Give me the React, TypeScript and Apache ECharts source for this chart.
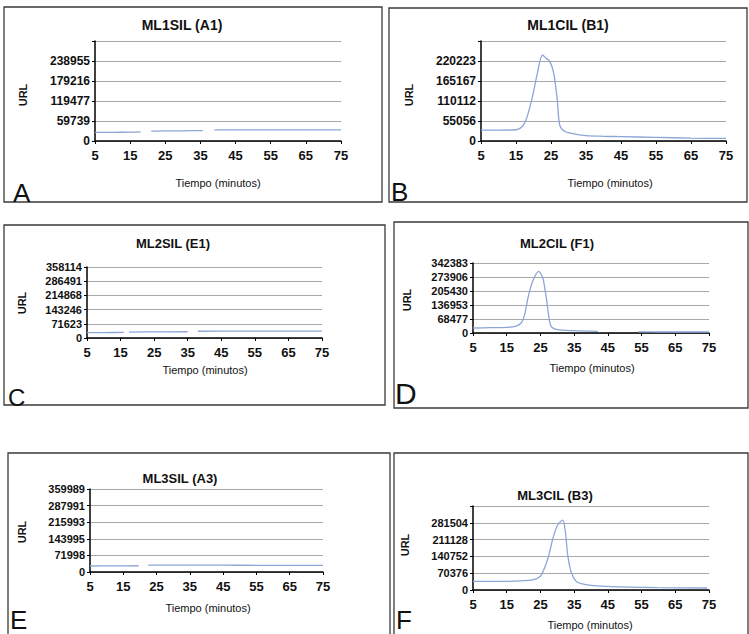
import React, { useEffect, useRef } from "react";
import * as echarts from "echarts";

// ---- Data (time in minutes, URL values) ----
const titles = ["ML1SIL (A1)", "ML1CIL (B1)", "ML2SIL (E1)", "ML2CIL (F1)", "ML3SIL (A3)", "ML3CIL (B3)"];
const panelLetters = ["A", "B", "C", "D", "E", "F"];
const xTicks = [5, 15, 25, 35, 45, 55, 65, 75];

const yLabelsA = ["0", "59739", "119477", "179216", "238955", ""];
const yLabelsB = ["0", "55056", "110112", "165167", "220223", ""];
const yLabelsC = ["0", "71623", "143246", "214868", "286491", "358114"];
const yLabelsD = ["0", "68477", "136953", "205430", "273906", "342383"];
const yLabelsE = ["0", "71998", "143995", "215993", "287991", "359989"];
const yLabelsF = ["0", "70376", "140752", "211128", "281504", ""];
const yMaxes = [298695, 275279, 358114, 342383, 359989, 351880];

const tA = [5, 10, 15, 18, 19.5, 21, 30, 35.7, 37.5, 39, 50, 60, 75];
const vA = [26000, 26000, 26500, 27000, null, 29500, 30500, 31000, null, 33000, 33500, 33000, 33000];

const tB = [5, 10, 15, 16, 17.1, 18, 19, 20, 20.9, 22.6, 23.6, 24.6, 25.7, 26.7, 27.5, 29, 32, 35, 40, 45, 55, 65, 75];
const vB = [30000, 30000, 31000, 34000, 44000, 62000, 94500, 135000, 177000, 236700, 228000, 220000, 190000, 122000, 44000, 26000, 19000, 15000, 13000, 12000, 10000, 8000, 7000];

const tC = [5, 10, 16, 16.8, 17.5, 25, 35, 36.5, 38, 50, 60, 75];
const vC = [27000, 27500, 28000, null, 30000, 31000, 31500, null, 34000, 35000, 35000, 35000];

const tD = [5, 10, 15, 17.5, 19.3, 20.3, 21.3, 22.7, 24.5, 25.7, 26.2, 26.9, 27.4, 28.2, 30.1, 35, 42, 48, 54, 60, 75];
const vD = [24500, 26000, 27700, 33000, 48900, 89700, 171200, 252700, 301600, 269000, 228300, 154900, 89700, 32600, 16300, 11400, 8200, null, 5500, 5000, 4900];

const tE = [5, 12, 19.6, 21, 22.5, 35, 45, 55, 65, 75];
const vE = [26000, 26500, 27000, null, 29500, 30000, 29500, 29000, 29000, 29000];

const tF = [5, 10, 15, 20, 23.2, 25.2, 27.2, 28.7, 30.1, 31.6, 32.4, 33.1, 34.1, 35.6, 37.1, 40, 45.9, 59.7, 74.5];
const vF = [36400, 36400, 36400, 39000, 44900, 61700, 131800, 215900, 272000, 293000, 244000, 145800, 75700, 36400, 26600, 19600, 14000, 9800, 8400];

const times = [tA, tB, tC, tD, tE, tF];
const values = [vA, vB, vC, vD, vE, vF];
const yLabels = [yLabelsA, yLabelsB, yLabelsC, yLabelsD, yLabelsE, yLabelsF];

// ---- Layout ----
const FONT = "'Liberation Sans', Arial, sans-serif";
const layout = [
  { grid: { left: 95, top: 41, width: 246, height: 100 }, border: [4, 7, 378, 195], title: [182, 25], url: [23, 95], xname: [218, 183], letter: [13, 193], lv: "middle", ls: 26, tf: 14, yf: 12, xf: 13 },
  { grid: { left: 481, top: 41, width: 245, height: 100 }, border: [389, 8, 358, 194], title: [568, 25], url: [409, 95], xname: [610, 183], letter: [391, 192], lv: "middle", ls: 26, tf: 14, yf: 12, xf: 13 },
  { grid: { left: 87, top: 267, width: 235, height: 71 }, border: [4, 225, 381, 180], title: [173, 243], url: [22, 303], xname: [205, 370], letter: [8, 397], lv: "middle", ls: 24, tf: 13, yf: 11, xf: 13 },
  { grid: { left: 473, top: 263, width: 236, height: 70 }, border: [394, 222, 354, 186], title: [557, 243], url: [407, 300], xname: [592, 368], letter: [395, 393], lv: "middle", ls: 30, tf: 13, yf: 11, xf: 13 },
  { grid: { left: 90, top: 489, width: 233, height: 83 }, border: [8, 453, 382, 200], title: [180, 478], url: [22, 532], xname: [208, 608], letter: [10, 633], lv: "bottom", ls: 26, tf: 13, yf: 11, xf: 13 },
  { grid: { left: 473, top: 506, width: 236, height: 84 }, border: [394, 453, 354, 200], title: [555, 495], url: [405, 545], xname: [590, 625], letter: [396, 633], lv: "bottom", ls: 26, tf: 13, yf: 11, xf: 13 },
];

function buildOption() {
  const grids: any[] = [];
  const xAxes: any[] = [];
  const yAxes: any[] = [];
  const series: any[] = [];
  const graphics: any[] = [];

  layout.forEach((L, i) => {
    grids.push({ ...L.grid, containLabel: false });
    xAxes.push({
      type: "value",
      gridIndex: i,
      min: 5,
      max: 75,
      interval: 10,
      axisLine: { show: true, lineStyle: { color: "#000", width: 1.5 } },
      axisTick: { show: true, length: 3, lineStyle: { color: "#000" } },
      splitLine: { show: false },
      axisLabel: {
        color: "#111",
        fontFamily: FONT,
        fontWeight: "bold",
        fontSize: L.xf,
        margin: 8,
        formatter: (v: number) => (xTicks.indexOf(Math.round(v)) >= 0 ? String(Math.round(v)) : ""),
      },
    });
    const interval = yMaxes[i] / 5;
    const labels = yLabels[i];
    yAxes.push({
      type: "value",
      gridIndex: i,
      min: 0,
      max: yMaxes[i],
      interval,
      axisLine: { show: true, lineStyle: { color: "#000", width: 1.5 } },
      axisTick: { show: true, length: 3, lineStyle: { color: "#000" } },
      splitLine: { show: true, lineStyle: { color: "#a8a8a8", width: 1.2 } },
      axisLabel: {
        color: "#111",
        fontFamily: FONT,
        fontWeight: "bold",
        fontSize: L.yf,
        margin: 5,
        formatter: (v: number) => labels[Math.round(v / interval)] ?? "",
      },
    });
    series.push({
      type: "line",
      xAxisIndex: i,
      yAxisIndex: i,
      data: times[i].map((t, k) => [t, values[i][k]]),
      showSymbol: false,
      symbol: "none",
      connectNulls: false,
      smooth: 0.3,
      lineStyle: { color: "#8da6d8", width: 1.3 },
      itemStyle: { color: "#8da6d8" },
    });

    const [bx, by, bw, bh] = L.border;
    graphics.push({
      type: "rect",
      shape: { x: bx, y: by, width: bw, height: bh },
      style: { fill: "none", stroke: "#3a3a3a", lineWidth: 1.3 },
      silent: true,
    });
    graphics.push({
      type: "text",
      x: L.title[0],
      y: L.title[1],
      style: {
        text: titles[i],
        font: `bold ${L.tf}px ${FONT}`,
        fill: "#111",
        align: "center",
        verticalAlign: "middle",
        textAlign: "center",
        textVerticalAlign: "middle",
      },
    });
    graphics.push({
      type: "text",
      x: L.url[0],
      y: L.url[1],
      rotation: Math.PI / 2,
      style: {
        text: "URL",
        font: `bold 11px ${FONT}`,
        fill: "#111",
        align: "center",
        verticalAlign: "middle",
        textAlign: "center",
        textVerticalAlign: "middle",
      },
    });
    graphics.push({
      type: "text",
      x: L.xname[0],
      y: L.xname[1],
      style: {
        text: "Tiempo (minutos)",
        font: `11px ${FONT}`,
        fill: "#111",
        align: "center",
        verticalAlign: "middle",
        textAlign: "center",
        textVerticalAlign: "middle",
      },
    });
    graphics.push({
      type: "text",
      x: L.letter[0],
      y: L.letter[1],
      style: {
        text: panelLetters[i],
        font: `${L.ls}px ${FONT}`,
        fill: "#111",
        align: "left",
        verticalAlign: L.lv,
        textAlign: "left",
        textVerticalAlign: L.lv,
      },
    });
  });

  return {
    animation: false,
    backgroundColor: "#fff",
    grid: grids,
    xAxis: xAxes,
    yAxis: yAxes,
    series,
    graphic: { elements: graphics },
  };
}

export default function App() {
  const ref = useRef<HTMLDivElement>(null);
  useEffect(() => {
    if (!ref.current) return;
    const chart = echarts.init(ref.current, undefined, { renderer: "svg" });
    chart.setOption(buildOption() as any);
    return () => chart.dispose();
  }, []);
  return <div ref={ref} style={{ position: "absolute", left: 0, top: 0, width: 749, height: 634 }} />;
}
